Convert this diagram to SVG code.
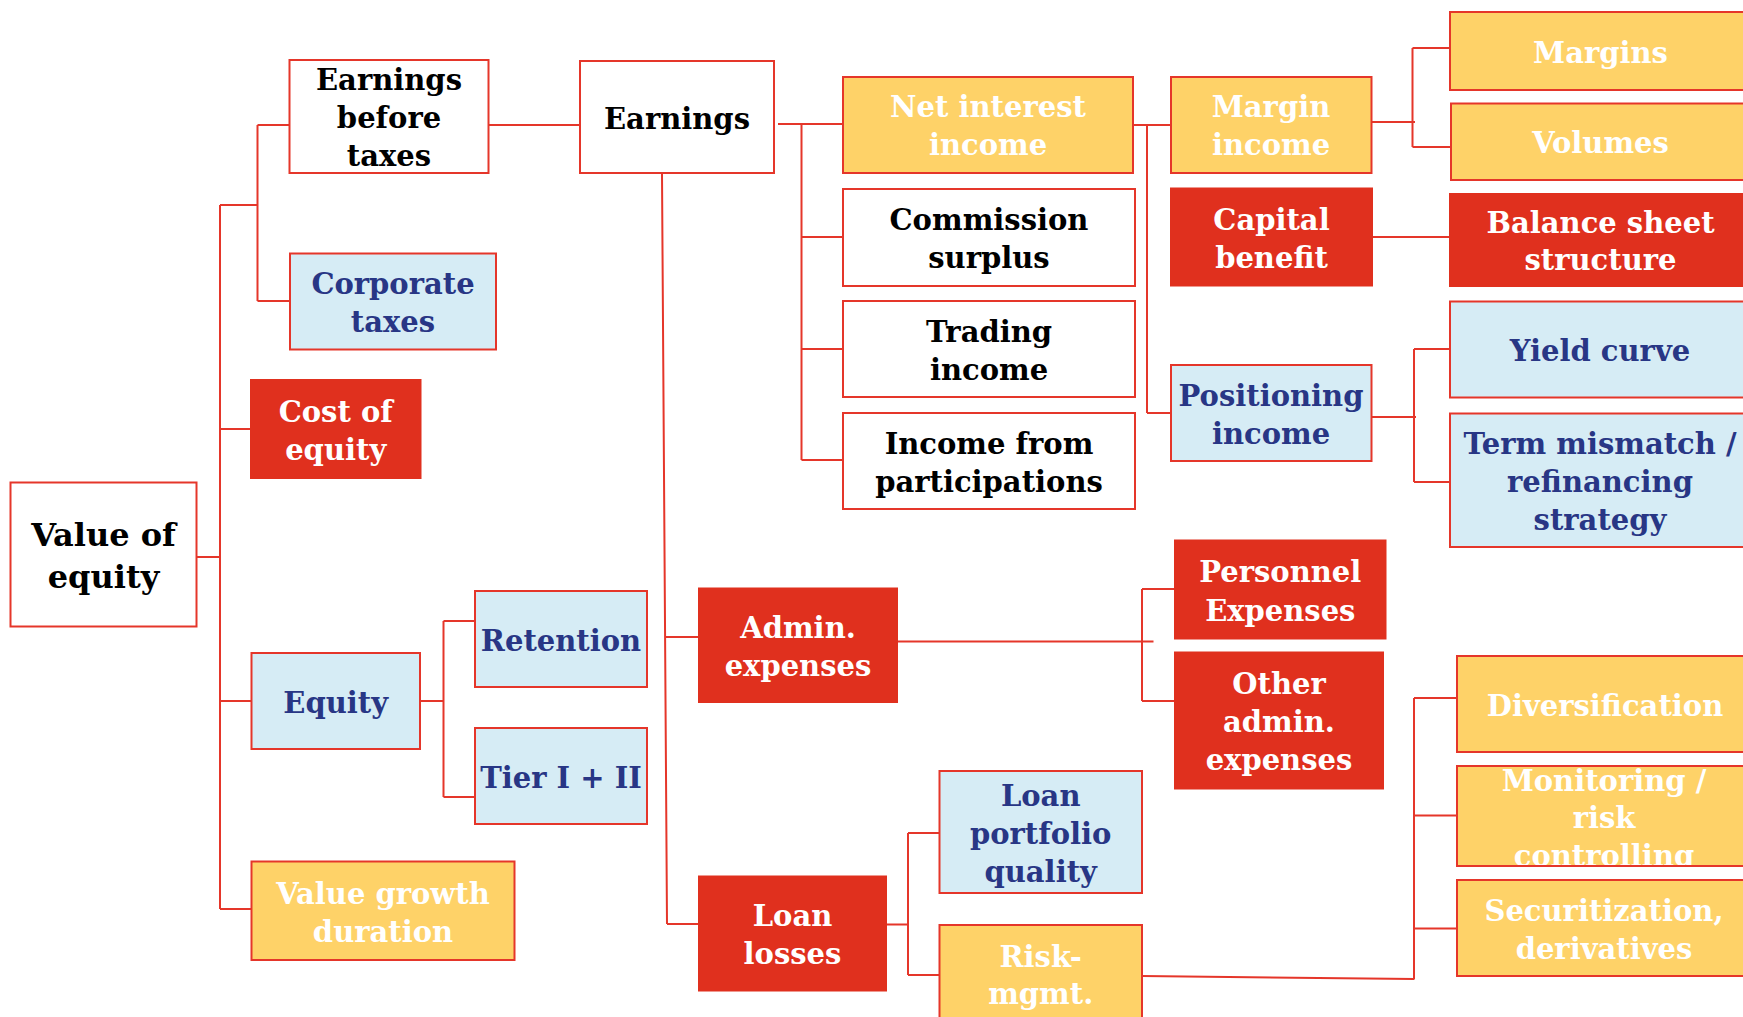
<svg xmlns="http://www.w3.org/2000/svg" width="1743" height="1017" viewBox="0 0 1743 1017">
<style>
.bw{fill:#fff;stroke:#E5362A;stroke-width:2}
.by{fill:#FED268;stroke:#E5362A;stroke-width:2}
.bb{fill:#D6ECF5;stroke:#E5362A;stroke-width:2}
.br{fill:#E0301E;stroke:#E0301E;stroke-width:2}
.t{font-family:"DejaVu Serif","Liberation Serif",serif;font-weight:bold;font-size:29px;text-anchor:middle}
.k{fill:#000}.w{fill:#fff}.n{fill:#283685}
.c{fill:none;stroke:#E5362A;stroke-width:2}
</style>
<defs>
<clipPath id="clipMon"><rect x="1457" y="766" width="296" height="100"/></clipPath>
</defs>
<rect width="1743" height="1017" fill="#fff"/>
<g id="connectors">
<path class="c" d="M197,557H220M220,205V909M220,429H251M220,701H251M220,909H251M220,205H257.5M257.5,125V301M257.5,125H289M257.5,301H290"/>
<path class="c" d="M420,701H444M443.5,621V797M443.5,621H475M443.5,797H475"/>
<path class="c" d="M489,125H580"/>
<path class="c" d="M662,174L667,924M665,637H699M667,924H699"/>
<path class="c" d="M778,124H843M801.5,124V460M801.5,237H843M801.5,349H846M801.5,460H843"/>
<path class="c" d="M1133,125H1171M1147,125V413M1147,413H1171"/>
<path class="c" d="M1362,122H1415M1412.5,48V147M1412.5,48H1450M1412.5,147H1451"/>
<path class="c" d="M1372,237H1450"/>
<path class="c" d="M1371.5,417H1416M1414,349V482M1414,349H1450M1414,482H1450"/>
<path class="c" d="M897,641.5H1153.5M1142,589V701M1142,589H1175M1142,701H1175"/>
<path class="c" d="M886,924.5H908M908,833V975M908,833H939.5M908,975H939.5"/>
<path class="c" d="M1142,976L1414.5,979M1414,698V979M1414,698H1457M1414,815.5H1457M1414,928.5H1457"/>
</g>
<g id="value-of-equity"><rect class="bw" x="10.5" y="482.5" width="186" height="144"/><text class="t k" style="font-size:32px"><tspan x="103.5" y="546">Value of</tspan><tspan x="103.5" y="588">equity</tspan></text></g>
<g id="earnings-before-taxes"><rect class="bw" x="289.5" y="60" width="199" height="113"/><text class="t k"><tspan x="389" y="90">Earnings</tspan><tspan x="389" y="128">before</tspan><tspan x="389" y="166">taxes</tspan></text></g>
<g id="corporate-taxes"><rect class="bb" x="290" y="253.5" width="206" height="96"/><text class="t n"><tspan x="393" y="294">Corporate</tspan><tspan x="393" y="332">taxes</tspan></text></g>
<g id="cost-of-equity"><rect class="br" x="251" y="380" width="169.5" height="98"/><text class="t w"><tspan x="335.7" y="422">Cost of</tspan><tspan x="335.7" y="460">equity</tspan></text></g>
<g id="equity"><rect class="bb" x="251.5" y="653" width="168.5" height="96"/><text class="t n"><tspan x="335.7" y="713">Equity</tspan></text></g>
<g id="retention"><rect class="bb" x="475" y="591" width="172" height="96"/><text class="t n"><tspan x="561" y="651">Retention</tspan></text></g>
<g id="tier"><rect class="bb" x="475" y="728" width="172" height="96"/><text class="t n"><tspan x="561" y="787.5">Tier I + II</tspan></text></g>
<g id="value-growth"><rect class="by" x="251.5" y="861.5" width="263" height="98.5"/><text class="t w"><tspan x="383" y="903.5">Value growth</tspan><tspan x="383" y="941.5">duration</tspan></text></g>
<g id="earnings"><rect class="bw" x="580" y="61" width="194" height="112"/><text class="t k"><tspan x="677" y="128.5">Earnings</tspan></text></g>
<g id="net-interest-income"><rect class="by" x="843" y="77" width="290" height="96"/><text class="t w"><tspan x="988" y="117">Net interest</tspan><tspan x="988" y="155">income</tspan></text></g>
<g id="commission-surplus"><rect class="bw" x="843" y="189" width="292" height="97"/><text class="t k"><tspan x="989" y="230">Commission</tspan><tspan x="989" y="268">surplus</tspan></text></g>
<g id="trading-income"><rect class="bw" x="843" y="301" width="292" height="96"/><text class="t k"><tspan x="989" y="341.5">Trading</tspan><tspan x="989" y="379.5">income</tspan></text></g>
<g id="income-participations"><rect class="bw" x="843" y="413" width="292" height="96"/><text class="t k"><tspan x="989" y="453.5">Income from</tspan><tspan x="989" y="491.5">participations</tspan></text></g>
<g id="admin-expenses"><rect class="br" x="699" y="588.5" width="198" height="113.5"/><text class="t w"><tspan x="798" y="637.5">Admin.</tspan><tspan x="798" y="675.5">expenses</tspan></text></g>
<g id="loan-losses"><rect class="br" x="699" y="876.5" width="187" height="114"/><text class="t w"><tspan x="792.5" y="926">Loan</tspan><tspan x="792.5" y="964">losses</tspan></text></g>
<g id="loan-portfolio-quality"><rect class="bb" x="939.5" y="771" width="202.5" height="122"/><text class="t n"><tspan x="1040.7" y="805.5">Loan</tspan><tspan x="1040.7" y="843.5">portfolio</tspan><tspan x="1040.7" y="881.5">quality</tspan></text></g>
<g id="risk-mgmt"><rect class="by" x="939.5" y="925" width="202.5" height="100"/><text class="t w"><tspan x="1040.7" y="967">Risk-</tspan><tspan x="1040.7" y="1004">mgmt.</tspan></text></g>
<g id="margin-income"><rect class="by" x="1171" y="77" width="200.5" height="96"/><text class="t w"><tspan x="1271" y="117">Margin</tspan><tspan x="1271" y="155">income</tspan></text></g>
<g id="capital-benefit"><rect class="br" x="1171" y="188.5" width="201" height="97"/><text class="t w"><tspan x="1271.5" y="229.5">Capital</tspan><tspan x="1271.5" y="267.5">benefit</tspan></text></g>
<g id="positioning-income"><rect class="bb" x="1171" y="365" width="200.5" height="96"/><text class="t n"><tspan x="1271" y="405.5">Positioning</tspan><tspan x="1271" y="443.5">income</tspan></text></g>
<g id="margins"><rect class="by" x="1450" y="12" width="301" height="78"/><text class="t w"><tspan x="1600.5" y="62.5">Margins</tspan></text></g>
<g id="volumes"><rect class="by" x="1451" y="103.5" width="300" height="76.5"/><text class="t w"><tspan x="1600.5" y="153">Volumes</tspan></text></g>
<g id="balance-sheet-structure"><rect class="br" x="1450" y="194" width="301" height="92"/><text class="t w"><tspan x="1600.5" y="232.5">Balance sheet</tspan><tspan x="1600.5" y="270">structure</tspan></text></g>
<g id="yield-curve"><rect class="bb" x="1450" y="301.5" width="301" height="96"/><text class="t n"><tspan x="1600" y="360.5">Yield curve</tspan></text></g>
<g id="term-mismatch"><rect class="bb" x="1450" y="413.5" width="301" height="133.5"/><text class="t n"><tspan x="1600" y="454">Term mismatch /</tspan><tspan x="1600" y="492">refinancing</tspan><tspan x="1600" y="530">strategy</tspan></text></g>
<g id="personnel-expenses"><rect class="br" x="1175" y="540.5" width="210.5" height="98"/><text class="t w"><tspan x="1280.3" y="582">Personnel</tspan><tspan x="1280.3" y="620.5">Expenses</tspan></text></g>
<g id="other-admin-expenses"><rect class="br" x="1175" y="652.5" width="208" height="136"/><text class="t w"><tspan x="1279" y="694">Other</tspan><tspan x="1279" y="732">admin.</tspan><tspan x="1279" y="770">expenses</tspan></text></g>
<g id="diversification"><rect class="by" x="1457" y="656" width="296" height="96"/><text class="t w"><tspan x="1605" y="716">Diversification</tspan></text></g>
<g id="monitoring"><rect class="by" x="1457" y="766" width="296" height="100"/><text class="t w" clip-path="url(#clipMon)"><tspan x="1604" y="791">Monitoring /</tspan><tspan x="1604" y="828">risk</tspan><tspan x="1604" y="866">controlling</tspan></text><rect x="1457" y="766" width="296" height="100" fill="none" stroke="#E5362A" stroke-width="2"/></g>
<g id="securitization"><rect class="by" x="1457" y="880" width="296" height="96"/><text class="t w"><tspan x="1604" y="920.5">Securitization,</tspan><tspan x="1604" y="959">derivatives</tspan></text></g>
</svg>
